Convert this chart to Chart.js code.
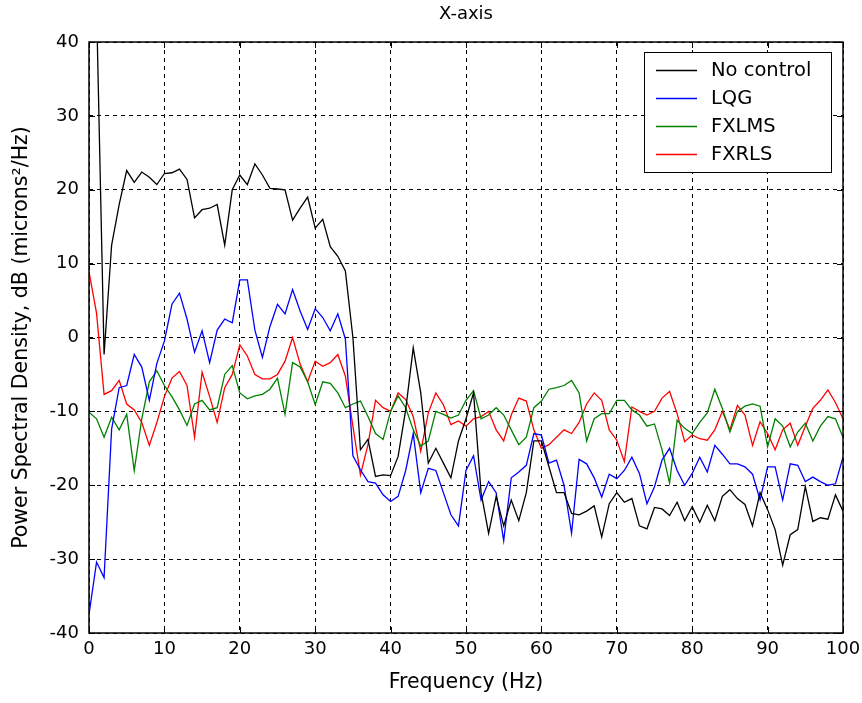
<!DOCTYPE html>
<html>
<head>
<meta charset="utf-8">
<script src="https://cdn.jsdelivr.net/npm/chart.js@4"></script>
<style>
  html, body { margin: 0; padding: 0; background: #fff; }
  #wrap { width: 862px; height: 703px; position: relative; }
</style>
</head>
<body>
<div id="wrap"><canvas id="chart"></canvas></div>
<script>
// 1 Hz frequency bins, 0..100 Hz
const freqs = Array.from({ length: 101 }, (_, i) => i);

const seriesNames = ['No control', 'LQG', 'FXLMS', 'FXRLS'];
const seriesColors = ['#000000', '#0000ff', '#008000', '#ff0000'];

const xTicks = [0, 10, 20, 30, 40, 50, 60, 70, 80, 90, 100];
const yTicks = [-40, -30, -20, -10, 0, 10, 20, 30, 40];

const noControl = [
  42, 45, -2.3, 12.5, 18, 22.6, 21, 22.4, 21.7, 20.7,
  22.2, 22.3, 22.8, 21.4, 16.2, 17.3, 17.5, 18, 12.5, 20,
  22, 20.7, 23.5, 22, 20.2, 20.1, 20, 15.9, 17.5, 19,
  14.8, 16, 12.3, 11, 9, 0, -15.2, -13.8, -18.8, -18.6,
  -18.7, -16.1, -9.8, -1.4, -7.5, -17, -15, -17, -19, -14,
  -11, -7.5, -21, -26.5, -21.5, -25.5, -22, -24.8, -21, -14,
  -14, -17.5, -21, -21, -23.8, -24, -23.5, -22.8, -27, -22.5,
  -21, -22.3, -21.8, -25.5, -25.9, -23, -23.2, -24.1, -22.3, -24.8,
  -22.9, -25, -22.7, -24.8, -21.5, -20.6, -21.8, -22.6, -25.5, -21,
  -23.3, -26, -30.8, -26.7, -26, -20.2, -24.9, -24.4, -24.6, -21.3,
  -23.5
];

const lqg = [
  -37.5, -30.4, -32.5, -12.4, -6.8, -6.5, -2.3, -4, -8.5, -3.5,
  -0.5, 4.5, 6, 2.5, -2, 0.9, -3.4, 1, 2.5, 2,
  7.8, 7.8, 1, -2.7, 1.5, 4.5, 3.2, 6.5, 3.6, 1.1,
  3.9, 2.7, 0.9, 3.2, -0.2, -16, -17.9, -19.5, -19.7, -21.3,
  -22.2, -21.5, -18, -13, -21, -17.7, -18, -21, -24, -25.5,
  -18, -16, -22, -19.5, -21, -27.5, -19, -18.2, -17.3, -13,
  -13.2, -17, -16.6, -20, -26.5, -16.5, -17.1, -19, -21.6, -18.5,
  -19.1, -18, -16.2, -18.4, -22.5, -20.2, -16.6, -15, -18, -20,
  -18.4, -16.2, -18.2, -14.6, -15.8, -17.1, -17.1, -17.5, -18.5, -22,
  -17.5, -17.5, -22, -17.1, -17.3, -19.5, -18.9, -19.5, -20, -19.8,
  -16.2
];

const fxlms = [
  -10.1, -11, -13.5, -10.8, -12.5, -10.4, -18, -11, -6, -4.5,
  -6.5, -8, -9.8, -11.9, -9, -8.5, -9.8, -9.5, -5, -3.8,
  -7.5, -8.3, -7.9, -7.7, -7, -5.5, -10.4, -3.4, -4, -6,
  -9.1, -6, -6.2, -7.5, -9.5, -9, -8.6, -10.7, -13, -13.8,
  -10, -7.9, -9.5, -12.5, -14.7, -14, -10, -10.4, -10.9, -10.5,
  -8.5, -7.2, -11, -10.5, -9.5, -10.5, -12.5, -14.5, -13.5, -9.5,
  -8.6, -7, -6.8, -6.5, -5.8, -7.5, -14, -11, -10.3, -10.3,
  -8.5, -8.5, -9.8, -10.5, -12, -11.7, -15.2, -19.7, -11.2, -12.3,
  -13, -11.5, -10.2, -7, -9.6, -12.8, -10, -9.3, -9, -9.3,
  -14.8, -11, -12, -14.8, -12.8, -11.6, -14, -12, -10.7, -11,
  -13.5
];

const fxrls = [
  8.9, 3.3, -7.7, -7.2, -5.8, -9, -9.8, -11.5, -14.6, -11.5,
  -8, -5.5, -4.6, -6.5, -13.5, -4.7, -8, -11.5, -6.8, -5,
  -1, -2.5, -5, -5.6, -5.6, -5, -3.2, 0, -3.6, -6,
  -3.2, -3.9, -3.4, -2.3, -5.2, -12, -18.6, -14.5, -8.5, -9.5,
  -10, -7.5, -8.4, -10.7, -15.4, -10.2, -7.5, -9.1, -11.8, -11.3,
  -12, -11, -10.7, -10, -12.5, -14, -10.5, -8.2, -8.6, -12.5,
  -15, -14.5, -13.5, -12.5, -13, -11.5, -9, -7.5, -8.5, -12.5,
  -13.9, -16.8, -9.4, -10, -10.5, -10, -8.2, -7.3, -10.3, -14.1,
  -13.2, -13.7, -13.9, -12.5, -10, -12.5, -9.2, -10.5, -14.6, -11.4,
  -13, -15.2, -12.5, -11.6, -14.6, -12, -9.6, -8.5, -7.1, -8.8,
  -11
];

const seriesValues = [noControl, lqg, fxlms, fxrls];

const FONT = 'DejaVu Sans';
Chart.defaults.font.family = FONT;
Chart.defaults.font.size = 18;
Chart.defaults.color = '#000';

// box round the axes, MATLAB-style inward ticks, legend inside the plot
const matlabFrame = {
  id: 'matlabFrame',
  afterDatasetsDraw(chart) {
    const { ctx, chartArea: a, scales } = chart;
    ctx.save();
    ctx.strokeStyle = '#000';
    ctx.lineWidth = 1;
    ctx.setLineDash([]);
    ctx.beginPath();
    xTicks.forEach((t) => {
      const x = Math.round(scales.x.getPixelForValue(t)) + 0.5;
      ctx.moveTo(x, a.bottom);
      ctx.lineTo(x, a.bottom - 6);
      ctx.moveTo(x, a.top);
      ctx.lineTo(x, a.top + 6);
    });
    yTicks.forEach((t) => {
      const y = Math.round(scales.y.getPixelForValue(t)) + 0.5;
      ctx.moveTo(a.left, y);
      ctx.lineTo(a.left + 6, y);
      ctx.moveTo(a.right, y);
      ctx.lineTo(a.right - 6, y);
    });
    ctx.stroke();
    ctx.lineWidth = 1.5;
    ctx.strokeRect(a.left, a.top, a.right - a.left, a.bottom - a.top);

    // legend
    const w = 187;
    const h = 120;
    const lx = a.right - 12 - w;
    const ly = a.top + 10;
    ctx.fillStyle = '#fff';
    ctx.fillRect(lx, ly, w, h);
    ctx.lineWidth = 1;
    ctx.strokeRect(lx + 0.5, ly + 0.5, w, h);
    ctx.font = `19.5px ${FONT}`;
    ctx.textBaseline = 'middle';
    ctx.textAlign = 'left';
    chart.data.datasets.forEach((ds, i) => {
      const rowY = ly + 18.5 + i * 28;
      ctx.strokeStyle = ds.borderColor;
      ctx.lineWidth = 1.3;
      ctx.beginPath();
      ctx.moveTo(lx + 12, rowY);
      ctx.lineTo(lx + 53, rowY);
      ctx.stroke();
      ctx.fillStyle = '#000';
      ctx.fillText(ds.label, lx + 67, rowY);
    });
    ctx.restore();
  },
};

const chart = new Chart(document.getElementById('chart'), {
  type: 'line',
  data: {
    datasets: seriesNames.map((name, s) => ({
      label: name,
      data: freqs.map((f, i) => ({ x: f, y: seriesValues[s][i] })),
      borderColor: seriesColors[s],
      backgroundColor: seriesColors[s],
      borderWidth: 1.3,
      pointRadius: 0,
      tension: 0,
      fill: false,
      clip: 0,
    })),
  },
  options: {
    responsive: true,
    maintainAspectRatio: false,
    animation: false,
    events: [],
    layout: { padding: { left: 0, right: 19, top: 0, bottom: 0 } },
    plugins: {
      legend: { display: false },
      tooltip: { enabled: false },
      title: {
        display: true,
        fullSize: false,
        text: 'X-axis',
        color: '#000',
        font: { size: 18, weight: 'normal' },
        padding: { top: 4, bottom: 16.4 },
      },
    },
    scales: {
      x: {
        type: 'linear',
        min: 0,
        max: 100,
        afterFit: (scale) => {
          scale.height = 70;
          scale.paddingLeft = 0;
          scale.paddingRight = 0;
        },
        afterBuildTicks: (scale) => { scale.ticks = xTicks.map((v) => ({ value: v })); },
        ticks: { padding: 6, color: '#000', maxRotation: 0 },
        grid: { color: '#000', lineWidth: 1, drawTicks: false },
        border: { display: false, dash: [4, 4] },
        title: {
          display: true,
          text: 'Frequency (Hz)',
          color: '#000',
          font: { size: 20.5 },
          padding: { top: 0, bottom: 8 },
        },
      },
      y: {
        type: 'linear',
        min: -40,
        max: 40,
        afterFit: (scale) => {
          scale.width = 89;
          scale.paddingTop = 0;
          scale.paddingBottom = 0;
        },
        afterBuildTicks: (scale) => { scale.ticks = yTicks.map((v) => ({ value: v })); },
        ticks: { padding: 10, color: '#000' },
        grid: { color: '#000', lineWidth: 1, drawTicks: false },
        border: { display: false, dash: [4, 4] },
        title: {
          display: true,
          text: 'Power Spectral Density, dB (microns\u00b2/Hz)',
          color: '#000',
          font: { size: 20.5 },
          padding: { top: 9, bottom: 0 },
        },
      },
    },
  },
  plugins: [matlabFrame],
});
</script>
</body>
</html>
